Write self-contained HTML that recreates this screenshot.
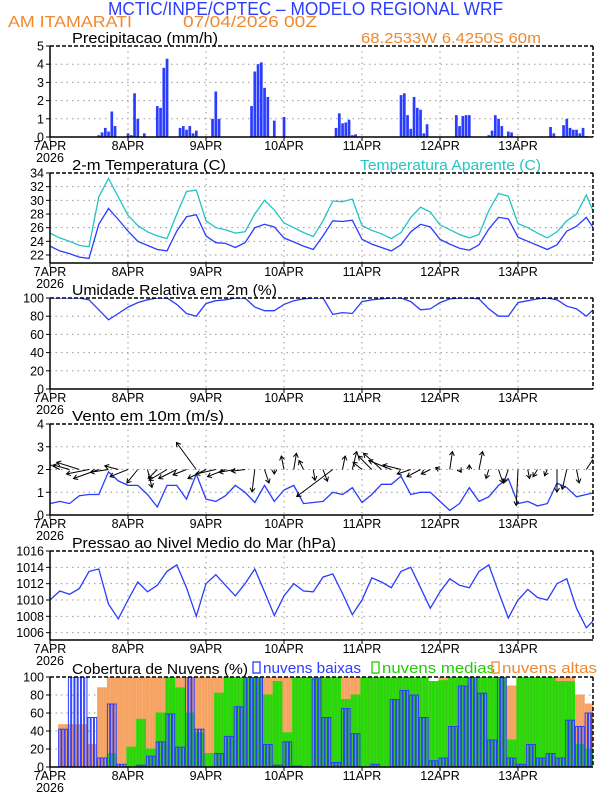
<!DOCTYPE html>
<html><head><meta charset="utf-8"><style>
html,body{margin:0;padding:0;background:#fff;}
svg{display:block;font-family:"Liberation Sans",sans-serif;}
</style></head><body>
<svg id="c" width="612" height="792" viewBox="0 0 612 792">
<text x="108" y="15" font-size="18" fill="#2a3cff" textLength="395" lengthAdjust="spacingAndGlyphs">MCTIC/INPE/CPTEC – MODELO REGIONAL WRF</text>
<text x="8" y="27" font-size="16" fill="#f0892e" textLength="124" lengthAdjust="spacingAndGlyphs">AM ITAMARATI</text>
<text x="183" y="27" font-size="16" fill="#f0892e" textLength="134" lengthAdjust="spacingAndGlyphs">07/04/2026 00Z</text>
<text x="361" y="43" font-size="15" fill="#f0892e" textLength="180" lengthAdjust="spacingAndGlyphs">68.2533W 6.4250S 60m</text>
<g id="g"></g>
</svg>
<script>
const hours3=[0,3,6,9,12,15,18,21,24,27,30,33,36,39,42,45,48,51,54,57,60,63,66,69,72,75,78,81,84,87,90,93,96,99,102,105,108,111,114,117,120,123,126,129,132,135,138,141,144,147,150,153,156,159,162,165,168];
const dayLabels=["7APR","8APR","9APR","10APR","11APR","12APR","13APR"];
const precipHours=[15,16,17,18,19,20,24,25,26,27,29,33,34,35,36,40,41,42,43,44,45,50,51,52,62,63,64,65,66,67,69,72,88,89,90,91,92,93,94,108,109,110,111,112,113,114,115,116,125,126,127,128,129,135,136,137,138,139,141,142,154,155,158,159,160,161,162,163,164,165];
const precipVals=[0.1,0.25,0.5,0.3,1.4,0.6,0.2,0.1,2.4,1.0,0.2,1.7,1.6,3.8,4.3,0.5,0.6,0.4,0.6,0.2,0.35,1.0,2.5,1.0,1.7,3.6,4.0,4.1,2.7,2.2,0.9,1.1,0.5,1.3,0.75,0.8,0.95,0.1,0.15,2.3,2.4,1.2,0.45,2.2,1.6,1.5,0.2,0.7,1.2,0.6,1.15,1.2,1.2,0.1,0.35,1.2,1.0,0.6,0.3,0.25,0.55,0.2,0.65,1.0,0.5,0.4,0.4,0.2,0.5,0.05];
const temp=[23.3,22.6,22.2,21.7,21.5,26.5,28.8,27.2,25.5,24.0,23.4,22.8,22.6,25.5,27.6,27.9,24.8,23.8,23.7,23.1,23.8,26.0,26.5,26.1,24.5,23.9,23.3,22.8,24.8,27.0,26.9,27.1,24.3,23.6,23.1,22.6,23.5,25.4,26.5,26.1,24.3,23.6,23.0,22.7,23.5,25.8,27.5,27.3,24.6,24.0,23.4,22.8,23.5,25.5,26.2,27.5,25.4];
const tempApp=[25.2,24.5,24.0,23.4,23.2,30.5,33.2,30.5,27.8,26.3,25.4,24.8,24.4,28.0,31.3,31.5,27.0,26.0,25.7,25.2,25.4,28.0,30.0,28.6,26.7,26.0,25.3,24.7,27.0,29.9,29.8,30.2,26.3,25.6,25.1,24.4,25.3,27.5,29.0,28.3,26.4,25.7,25.0,24.5,25.0,28.5,31.0,30.6,26.6,26.0,25.2,24.5,25.4,27.0,28.0,30.8,27.4];
const humid=[100,100,100,100,98,87,76,83,90,95,98,100,100,93,83,80,94,97,98,100,100,90,86,86,93,97,99,100,100,82,84,83,96,98,99,100,100,96,87,88,95,99,100,100,99,88,80,80,95,97,99,100,98,91,88,80,90];
const windSpeed=[0.5,0.6,0.5,0.85,0.9,0.9,1.9,1.5,1.3,1.3,0.9,0.35,1.3,1.3,0.7,1.8,0.7,0.6,0.85,1.3,1.0,0.55,1.3,0.6,1.1,1.3,0.5,0.55,0.6,1.0,0.9,1.2,0.55,0.9,1.35,1.35,1.7,0.9,1.0,1.0,0.6,0.2,0.5,1.2,0.6,0.8,1.3,1.6,0.5,0.6,0.4,0.5,1.4,1.2,0.8,0.9,1.0];
const windU=[-1.5,-2,-1.8,-2.5,-2.5,-2.8,-2,-1.5,-2,-1.2,0.5,-1,-2,-2,-1.5,-2.2,-2,-2.2,-2,-1.8,-1.5,-0.3,0.5,0,-0.3,0.3,-0.5,0.2,0.5,-4,0.3,0.5,-1,-1.5,-2,-2.5,-2,-1.5,-1.5,-1,-0.5,0.3,0.2,0,0.4,-0.3,0.5,-0.5,-0.2,0.2,-0.5,-0.3,0,-0.5,0.3,1,0.5];
const windV=[0.3,1,0.5,0.8,-0.5,-1,-0.3,0.4,-0.8,-1.5,-2,-1,-1.2,-1,-0.6,3,-1,-0.5,-0.8,-0.3,-0.2,-2.5,-1.5,-0.5,1.5,1.8,1,-1.2,-1.3,-3,1.5,2,0.8,1.5,1.8,1,0.5,-0.5,-0.8,-0.5,0.2,2,-0.3,0.5,2,-1,-1.5,-1.5,-4,-1,-0.8,-0.7,-2.5,-2.2,-1.5,1.5,-0.3];
const pressure=[1010.0,1011.1,1010.7,1011.4,1013.5,1013.8,1009.5,1007.7,1010.0,1012.2,1011.0,1011.8,1013.5,1014.3,1011.5,1008.0,1012.0,1013.1,1011.8,1010.5,1012.0,1013.8,1011.0,1008.1,1010.5,1012.0,1011.1,1011.0,1012.8,1013.2,1010.8,1008.2,1010.0,1012.7,1012.2,1011.5,1013.5,1014.0,1011.5,1009.0,1011.0,1012.6,1011.8,1011.5,1013.5,1014.3,1011.0,1007.8,1010.0,1011.3,1010.3,1010.0,1012.0,1012.6,1009.0,1006.6,1007.8];
const cloudLow=[0,42,100,100,55,10,70,3,0,2,12,28,59,22,100,42,0,15,34,67,100,100,25,2,28,1,0,98,55,5,65,37,0,3,0,75,85,80,55,7,10,45,90,100,82,30,100,10,3,25,10,15,10,52,45,60,0];
const cloudMed=[0,0,0,0,0,0,15,0,22,53,20,60,100,88,60,38,15,82,100,100,100,100,80,95,38,100,100,100,100,100,75,80,100,100,100,100,100,100,100,95,96,100,100,100,100,100,100,30,100,100,100,100,95,95,25,20,40];
const cloudHigh=[0,47,47,47,25,88,100,100,100,100,100,100,100,100,100,100,100,100,100,100,100,100,100,100,100,100,100,100,100,100,100,100,100,100,100,100,100,100,0,0,100,100,100,100,100,100,100,90,100,100,100,100,100,100,80,70,40];

const NS="http://www.w3.org/2000/svg";
const G=document.getElementById('g');
const X0=50,X1=593,PXH=3.25;
function xs(h){return X0+h*PXH;}
function mk(tag,attrs,parent){const e=document.createElementNS(NS,tag);for(const k in attrs)e.setAttribute(k,attrs[k]);(parent||G).appendChild(e);return e;}
let clipN=0;
function panel(name,title,titleLen,top,bot,vmin,vmax,ticks,tickLabels){
  const ys=v=>bot-(v-vmin)/(vmax-vmin)*(bot-top);
  const g=mk('g',{});
  
  
  const id='cp'+(clipN++);
  const cp=mk('clipPath',{id:id},g);mk('rect',{x:X0,y:top,width:X1-X0,height:bot-top},cp);
  ticks.forEach((t,i)=>{const y=ys(t);
    if(y>top+1&&y<bot-1){const l=mk('line',{x1:X0,x2:X1,y1:y,y2:y,stroke:'#999','stroke-dasharray':'1.5 4','stroke-width':1},g);
      }
    mk('line',{x1:X0-4,x2:X0,y1:y,y2:y,stroke:'#000','stroke-width':1},g);
    const t2=mk('text',{x:X0-6,y:y+4.5,'text-anchor':'end','font-size':12.5},g);t2.textContent=tickLabels[i];
    
  });
  dayLabels.forEach((d,i)=>{const x=xs(i*24);
    if(i>0){const l=mk('line',{x1:x,x2:x,y1:top,y2:bot,stroke:'#999','stroke-dasharray':'1.5 4','stroke-width':1},g);
      }
    mk('line',{x1:x,x2:x,y1:bot,y2:bot+4,stroke:'#000'},g);
    const t=mk('text',{x:x,y:bot+13,'text-anchor':'middle','font-size':12.5},g);t.textContent=d;
    
  });
  const yr=mk('text',{x:X0,y:bot+25,'text-anchor':'middle','font-size':12.5},g);yr.textContent='2026';
  
  const tt=mk('text',{x:72,y:top-3,'font-size':15,textLength:titleLen,lengthAdjust:'spacingAndGlyphs'},g);tt.textContent=title;
  
  const body=mk('g',{'clip-path':'url(#'+id+')'},g);
  return {ys,body,g,top,bot};
}
function frame(p){
  const f=mk('g',{},p.g);
  mk('line',{x1:X0,x2:X0,y1:p.top,y2:p.bot,stroke:'#000','stroke-width':1.5},f);
  mk('line',{x1:X0,x2:X1,y1:p.bot,y2:p.bot,stroke:'#000','stroke-width':1.5},f);
  mk('line',{x1:X0,x2:X1,y1:p.top,y2:p.top,stroke:'#000','stroke-width':1.5,'stroke-dasharray':'4 2'},f);
  mk('line',{x1:X1,x2:X1,y1:p.top,y2:p.bot,stroke:'#000','stroke-width':1.5,'stroke-dasharray':'4 2'},f);
}
function line(p,vals,color,name){
  const d=vals.map((v,i)=>(i?'L':'M')+xs(hours3[i]).toFixed(1)+','+p.ys(v).toFixed(1)).join('');
  const e=mk('path',{d:d,fill:'none',stroke:color,'stroke-width':1.3},p.body);
  
  
}
const p1=panel('precip','Precipitacao (mm/h)',146,46,137,0,5,[0,1,2,3,4,5],['0','1','2','3','4','5']);
precipHours.forEach((h,i)=>{const y=p1.ys(precipVals[i]);
  const r=mk('rect',{x:xs(h)-1.3,y:y,width:2.7,height:p1.bot-y,fill:'#2a3cff'},p1.body);
  
  });
frame(p1);
const p2=panel('temp','2-m Temperatura (C)',154,173,263,20.83,34,[22,24,26,28,30,32,34],['22','24','26','28','30','32','34']);
const ta=mk('text',{x:360,y:170,'font-size':15,fill:'#22c4c4',textLength:181,lengthAdjust:'spacingAndGlyphs'},p2.g);ta.textContent='Temperatura Aparente (C)';


line(p2,tempApp,'#22c4c4','apparent-temp-line');
line(p2,temp,'#2a3cff','temp-line');
frame(p2);
const p3=panel('humidity','Umidade Relativa em 2m (%)',205,298,389,0,100,[0,20,40,60,80,100],['0','20','40','60','80','100']);
line(p3,humid,'#2a3cff','humidity-line');
frame(p3);
const p4=panel('wind','Vento em 10m (m/s)',152,424,515,0,4,[0,1,2,3,4],['0','1','2','3','4']);
line(p4,windSpeed,'#2a3cff','wind-speed-line');
const SC=9;
hours3.forEach((h,i)=>{const x=xs(h),y=p4.ys(2);const dx=windU[i]*SC,dy=-windV[i]*SC;
  const L=Math.hypot(dx,dy)||1,ux=dx/L,uy=dy/L;const ex=x+dx,ey=y+dy;
  const a=mk('path',{d:`M${x},${y}L${ex},${ey}M${ex-4*ux-2.5*uy},${ey-4*uy+2.5*ux}L${ex},${ey}L${ex-4*ux+2.5*uy},${ey-4*uy-2.5*ux}`,stroke:'#000',fill:'none','stroke-width':1},p4.body);
  
  });
frame(p4);
const p5=panel('pressure','Pressao ao Nivel Medio do Mar (hPa)',264,551,640,1005.1,1016,[1006,1008,1010,1012,1014,1016],['1006','1008','1010','1012','1014','1016']);
line(p5,pressure,'#2a3cff','pressure-line');
frame(p5);
const p6=panel('cloud','Cobertura de Nuvens (%)',176,677,767,0,100,[0,20,40,60,80,100],['0','20','40','60','80','100']);
function cbars(vals,fill,stroke,name){hours3.forEach((h,i)=>{for(let k=0;k<3;k++){const v=vals[i];if(v<=0)continue;const y=p6.ys(v);
  const r=mk('rect',{x:xs(h+k)-1.1,y:y,width:2.3,height:p6.bot-y,fill:fill,stroke:stroke,'stroke-width':1},p6.body);
  
  }});}
cbars(cloudHigh,'#f5a464','#f5a464','cloud-high-bar');
cbars(cloudMed,'#3cc81e','#22e000','cloud-medium-bar');
cbars(cloudLow,'none','#2a3cff','cloud-low-bar');
frame(p6);
const leg=[['nuvens baixas','#2a3cff',253,98],['nuvens medias','#22cc00',372,113],['nuvens altas','#f0892e',492,95]];
leg.forEach(l=>{const r=mk('rect',{x:l[2],y:662,width:7,height:11,fill:'none',stroke:l[1],'stroke-width':1.3},p6.g);
  
  const t=mk('text',{x:l[2]+10,y:673,'font-size':15,fill:l[1],textLength:l[3],lengthAdjust:'spacingAndGlyphs'},p6.g);t.textContent=l[0];
  });
</script>
</body></html>
